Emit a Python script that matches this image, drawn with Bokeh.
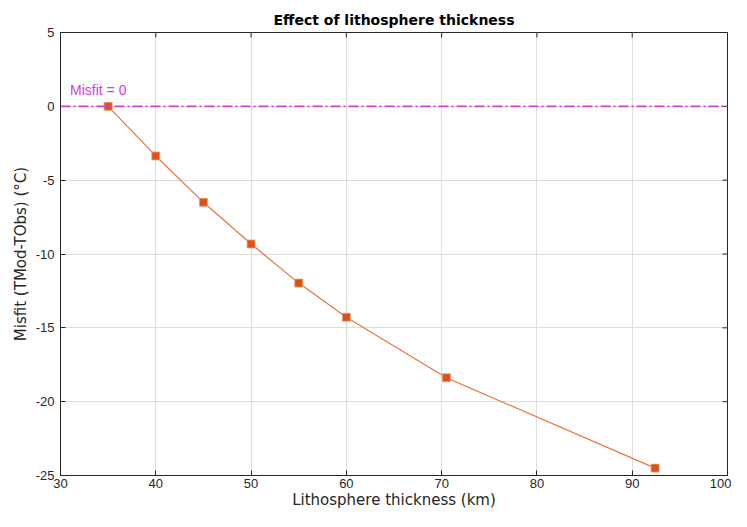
from bokeh.plotting import figure
from bokeh.models import Range1d, FixedTicker, Span, Label
from bokeh.embed import file_html
from bokeh.resources import INLINE

thickness = [35, 40, 45, 50, 55, 60, 70.5, 92.4]
misfit = [0.0, -3.36, -6.5, -9.32, -11.97, -14.28, -18.38, -24.5]
x_ticks = [30, 40, 50, 60, 70, 80, 90, 100]
y_ticks = [5, 0, -5, -10, -15, -20, -25]
ref_level = 0
ref_label = "Misfit = 0"

FONT = "Liberation Sans"
LFONT = "DejaVu Sans"
AX = "#262626"
MAGENTA = "#D63CD9"

p = figure(width=731, height=511, output_backend="svg", toolbar_location=None,
           x_range=Range1d(30, 100), y_range=Range1d(-25, 5),
           min_border_left=60, min_border_right=4, min_border_top=32, min_border_bottom=36,
           title="Effect of lithosphere thickness")
p.title.align = "center"
p.title.text_font = LFONT
p.title.text_font_size = "14px"
p.title.text_font_style = "bold"
p.title.text_color = "#000000"
p.title.standoff = 9
p.outline_line_color = AX
p.outline_line_width = 1

p.xaxis.ticker = FixedTicker(ticks=x_ticks)
p.yaxis.ticker = FixedTicker(ticks=y_ticks)
p.xaxis.major_label_overrides = {t: str(t) for t in x_ticks}
p.yaxis.major_label_overrides = {t: str(t) for t in y_ticks}
for ax in [p.xaxis[0], p.yaxis[0]]:
    ax.axis_line_color = AX
    ax.major_tick_line_color = AX
    ax.major_tick_in = 5
    ax.major_tick_out = 0
    ax.minor_tick_line_color = None
    ax.major_label_text_font = FONT
    ax.major_label_text_font_size = "13px"
    ax.major_label_text_color = AX
    ax.axis_label_text_font = LFONT
    ax.axis_label_text_font_size = "15px"
    ax.axis_label_text_font_style = "normal"
    ax.axis_label_text_color = AX
p.xaxis.axis_label = "Lithosphere thickness (km)"
p.yaxis.axis_label = "Misfit (TMod-TObs) (°C)"
p.xaxis.major_label_standoff = 3
p.yaxis.major_label_standoff = 6
p.xaxis.axis_label_standoff = 0
p.yaxis.axis_label_standoff = 3

# inward ticks on the top and right edges of the box
p.scatter(x_ticks, [5] * len(x_ticks), marker="dash", angle=1.5708, size=10,
          line_color=AX, line_width=1)
p.scatter([100] * len(y_ticks), y_ticks, marker="dash", size=10,
          line_color=AX, line_width=1)

p.xgrid.grid_line_color = "#dedede"
p.ygrid.grid_line_color = "#dedede"

span = Span(location=ref_level, dimension="width", line_color=MAGENTA,
            line_dash="10 3 2 3", line_width=1.6)
p.add_layout(span)
p.add_layout(Label(x=31, y=ref_level, text=ref_label, text_font=FONT,
                   text_font_size="14px", text_color=MAGENTA, y_offset=8))

p.line(thickness, misfit, line_color="#E8743E", line_width=1.2)
p.scatter(thickness, misfit, marker="square", size=8, fill_color="#D95319",
          line_color="#F0A070", line_width=0.8)

open("out.html", "w").write(file_html(p, INLINE))
